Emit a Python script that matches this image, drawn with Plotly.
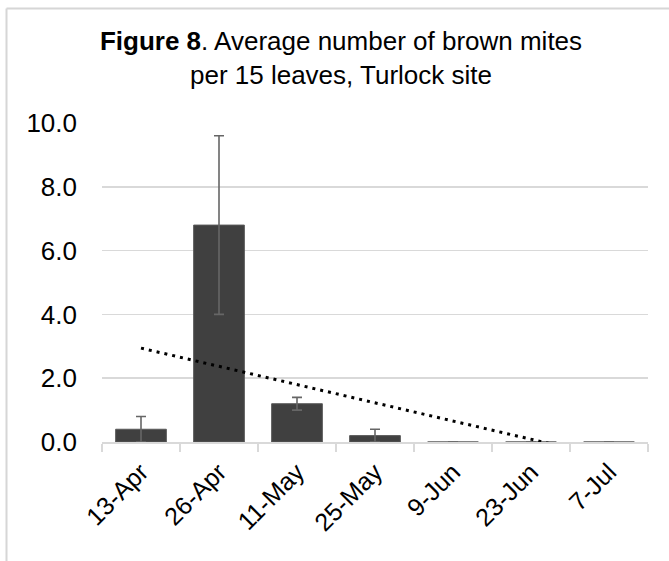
import numpy as np
import plotly.graph_objects as go

categories = ["13-Apr", "26-Apr", "11-May", "25-May", "9-Jun", "23-Jun", "7-Jul"]
mean_mites = [0.4, 6.8, 1.2, 0.2, 0.0, 0.0, 0.0]
error_mites = [0.4, 2.8, 0.2, 0.2, 0.0, 0.0, 0.0]
y_tick_values = [0, 2, 4, 6, 8, 10]
y_tick_labels = ["0.0", "2.0", "4.0", "6.0", "8.0", "10.0"]

# linear trendline (least squares on category index), as in the spreadsheet
idx = np.arange(1, len(categories) + 1)
slope, intercept = np.polyfit(idx, np.array(mean_mites), 1)
trend = slope * idx + intercept

W, H = 669, 561
L, R, T, B = 102, 648, 123, 442

fig = go.Figure()
fig.add_trace(go.Bar(
    x=categories, y=mean_mites,
    marker=dict(color="#404040", line=dict(color="#595959", width=1)),
    error_y=dict(type="data", array=error_mites, visible=True,
                 color="#666666", thickness=1.6, width=5),
    width=0.65, showlegend=False, hoverinfo="skip",
))
fig.add_trace(go.Scatter(
    x=categories, y=trend, mode="lines",
    line=dict(color="#000000", width=3, dash="3px,5px"),
    showlegend=False, hoverinfo="skip",
))

def px_to_paper_x(px):
    return (px - L) / (R - L)

def px_to_paper_y(py):
    return (B - py) / (B - T)

border = dict(color="#d6d6d6", width=2)
# top edge of the chart frame
fig.add_shape(type="line", xref="paper", yref="paper",
              x0=px_to_paper_x(6.5), x1=px_to_paper_x(700),
              y0=px_to_paper_y(8.5), y1=px_to_paper_y(8.5),
              line=border, layer="above")
# left edge of the chart frame
fig.add_shape(type="line", xref="paper", yref="paper",
              x0=px_to_paper_x(6.5), x1=px_to_paper_x(6.5),
              y0=px_to_paper_y(8.5), y1=px_to_paper_y(600),
              line=border, layer="above")

fig.update_layout(
    width=W, height=H,
    margin=dict(l=L, r=W - R, t=T, b=H - B, pad=0),
    paper_bgcolor="white", plot_bgcolor="white",
    font=dict(family="Liberation Sans, Arial, sans-serif", color="#000000"),
    title=dict(
        text="<b>Figure 8</b>. Average number of brown mites<br>per 15 leaves, Turlock site",
        font=dict(size=26, color="#000000"),
        x=341 / W, xref="container", xanchor="center",
        y=1 - 50 / H, yref="container", yanchor="top",
    ),
    bargap=0.35,
    xaxis=dict(
        type="category", tickangle=-45, tickfont=dict(size=25),
        showline=True, linecolor="#d9d9d9", linewidth=1.5,
        ticks="outside", tickson="boundaries", ticklen=8,
        tickcolor="#d9d9d9", tickwidth=1.5, ticklabelstandoff=4,
        showgrid=False, zeroline=False, fixedrange=True,
    ),
    yaxis=dict(
        range=[0, 10], tickvals=y_tick_values, ticktext=y_tick_labels,
        tickfont=dict(size=26), showgrid=True, gridcolor="#d9d9d9",
        gridwidth=1.5, zeroline=False, showline=False, ticks="",
        ticklabelstandoff=24, fixedrange=True,
    ),
)

fig.write_html(
    "out.html",
    config={"displayModeBar": False, "staticPlot": True},
    post_script="document.body.style.margin='0px';",
)
